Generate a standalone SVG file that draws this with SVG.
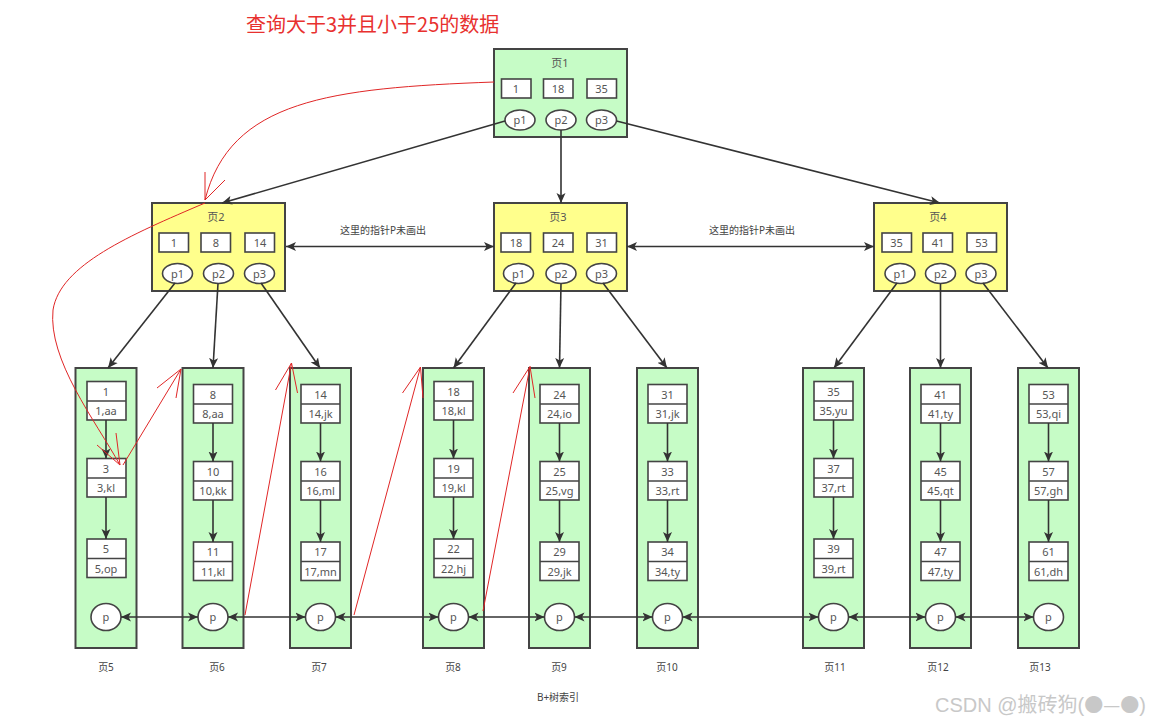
<svg xmlns="http://www.w3.org/2000/svg" width="1173" height="724" viewBox="0 0 1173 724">
<defs>
<marker id="ah" viewBox="0 0 10 10" refX="10" refY="5" markerWidth="10" markerHeight="10" markerUnits="userSpaceOnUse" orient="auto-start-reverse">
<path d="M0,0.5 L10,5 L0,9.5 L2.5,5 z" fill="#333"/>
</marker>
<style>
.inner{fill:#ffff8c;stroke:#444;stroke-width:2}
.leaf{fill:#c6fcc6;stroke:#444;stroke-width:2}
.root{fill:#c6fcc6;stroke:#444;stroke-width:2}
.box{fill:#fff;stroke:#444;stroke-width:1.6}
.ell{fill:#fff;stroke:#444;stroke-width:1.6}
.t{font-family:"Noto Sans","Noto Sans CJK SC",sans-serif;font-size:11px;fill:#555;text-anchor:middle}
.lbl{font-family:"Noto Sans","Noto Sans CJK SC",sans-serif;font-size:10px;fill:#444;text-anchor:middle}
.c{fill:none;stroke:#333;stroke-width:1.6}
.red{fill:none;stroke:#e02626;stroke-width:1}
</style>
</defs>
<rect width="1173" height="724" fill="#fff"/>
<text x="246" y="32" font-family="'Noto Sans CJK SC',sans-serif" font-size="20" fill="#e8312f">查询大于3并且小于25的数据</text>

<g id="page1">
<rect class="root" x="494" y="49" width="133" height="88"/>
<text class="t" x="560" y="67">页1</text>
<rect class="box" x="501.5" y="79" width="29.5" height="19"/><text class="t" x="516" y="92.5">1</text>
<rect class="box" x="543.5" y="79" width="29.5" height="19"/><text class="t" x="558" y="92.5">18</text>
<rect class="box" x="587" y="79" width="29.5" height="19"/><text class="t" x="601.5" y="92.5">35</text>
<ellipse class="ell" cx="520" cy="120" rx="15" ry="10"/><text class="t" x="520" y="124">p1</text>
<ellipse class="ell" cx="561" cy="120" rx="15" ry="10"/><text class="t" x="561" y="124">p2</text>
<ellipse class="ell" cx="601.5" cy="120" rx="15" ry="10"/><text class="t" x="601.5" y="124">p3</text>
</g>

<g id="page2">
<rect class="inner" x="152" y="203" width="133" height="88"/>
<text class="t" x="216" y="221">页2</text>
<rect class="box" x="159" y="233" width="29.5" height="19"/><text class="t" x="174" y="246.5">1</text>
<rect class="box" x="201" y="233" width="29.5" height="19"/><text class="t" x="216" y="246.5">8</text>
<rect class="box" x="245" y="233" width="29.5" height="19"/><text class="t" x="260" y="246.5">14</text>
<ellipse class="ell" cx="177.5" cy="273.5" rx="15" ry="10"/><text class="t" x="177.5" y="277.5">p1</text>
<ellipse class="ell" cx="218.5" cy="273.5" rx="15" ry="10"/><text class="t" x="218.5" y="277.5">p2</text>
<ellipse class="ell" cx="259.5" cy="273.5" rx="15" ry="10"/><text class="t" x="259.5" y="277.5">p3</text>
</g>

<g id="page3">
<rect class="inner" x="494" y="203" width="133" height="88"/>
<text class="t" x="558" y="221">页3</text>
<rect class="box" x="501" y="233" width="29.5" height="19"/><text class="t" x="516" y="246.5">18</text>
<rect class="box" x="543.5" y="233" width="29.5" height="19"/><text class="t" x="558" y="246.5">24</text>
<rect class="box" x="587" y="233" width="29.5" height="19"/><text class="t" x="601.5" y="246.5">31</text>
<ellipse class="ell" cx="518.5" cy="273.5" rx="15" ry="10"/><text class="t" x="518.5" y="277.5">p1</text>
<ellipse class="ell" cx="561" cy="273.5" rx="15" ry="10"/><text class="t" x="561" y="277.5">p2</text>
<ellipse class="ell" cx="601.5" cy="273.5" rx="15" ry="10"/><text class="t" x="601.5" y="277.5">p3</text>
</g>

<g id="page4">
<rect class="inner" x="874" y="203" width="133" height="88"/>
<text class="t" x="938" y="221">页4</text>
<rect class="box" x="882" y="233" width="29.5" height="19"/><text class="t" x="896.5" y="246.5">35</text>
<rect class="box" x="923" y="233" width="29.5" height="19"/><text class="t" x="938" y="246.5">41</text>
<rect class="box" x="967" y="233" width="29.5" height="19"/><text class="t" x="981.5" y="246.5">53</text>
<ellipse class="ell" cx="900" cy="273.5" rx="15" ry="10"/><text class="t" x="900" y="277.5">p1</text>
<ellipse class="ell" cx="940.5" cy="273.5" rx="15" ry="10"/><text class="t" x="940.5" y="277.5">p2</text>
<ellipse class="ell" cx="981" cy="273.5" rx="15" ry="10"/><text class="t" x="981" y="277.5">p3</text>
</g>

<g id="page5">
<rect class="leaf" x="75.5" y="368" width="61" height="280"/>
<rect class="box" x="87" y="381.5" width="39" height="38.5"/><line class="box" x1="87" y1="401" x2="126" y2="401"/>
<text class="t" x="106" y="395.5">1</text><text class="t" x="106" y="415">1,aa</text>
<rect class="box" x="87" y="458.5" width="39" height="38.5"/><line class="box" x1="87" y1="478" x2="126" y2="478"/>
<text class="t" x="106" y="472.5">3</text><text class="t" x="106" y="492">3,kl</text>
<rect class="box" x="87" y="539" width="39" height="38.5"/><line class="box" x1="87" y1="558.5" x2="126" y2="558.5"/>
<text class="t" x="106" y="553">5</text><text class="t" x="106" y="572.5">5,op</text>
<ellipse class="ell" cx="106" cy="617" rx="15" ry="13.5"/><text class="t" x="106" y="621">p</text>
<line class="c" x1="106" y1="420" x2="106" y2="458.5" marker-end="url(#ah)"/>
<line class="c" x1="106" y1="497" x2="106" y2="539" marker-end="url(#ah)"/>
</g>

<g id="page6">
<rect class="leaf" x="182.5" y="368" width="61" height="280"/>
<rect class="box" x="193.5" y="384.5" width="39" height="38.5"/><line class="box" x1="193.5" y1="404" x2="232.5" y2="404"/>
<text class="t" x="213" y="398.5">8</text><text class="t" x="213" y="418">8,aa</text>
<rect class="box" x="193.5" y="461.5" width="39" height="38.5"/><line class="box" x1="193.5" y1="481" x2="232.5" y2="481"/>
<text class="t" x="213" y="475.5">10</text><text class="t" x="213" y="495">10,kk</text>
<rect class="box" x="193.5" y="542" width="39" height="38.5"/><line class="box" x1="193.5" y1="561.5" x2="232.5" y2="561.5"/>
<text class="t" x="213" y="556">11</text><text class="t" x="213" y="575.5">11,kl</text>
<ellipse class="ell" cx="213" cy="617" rx="15" ry="13.5"/><text class="t" x="213" y="621">p</text>
<line class="c" x1="213" y1="423" x2="213" y2="461.5" marker-end="url(#ah)"/>
<line class="c" x1="213" y1="500" x2="213" y2="542" marker-end="url(#ah)"/>
</g>

<g id="page7">
<rect class="leaf" x="290" y="368" width="61" height="280"/>
<rect class="box" x="301" y="384.5" width="39" height="38.5"/><line class="box" x1="301" y1="404" x2="340" y2="404"/>
<text class="t" x="320.5" y="398.5">14</text><text class="t" x="320.5" y="418">14,jk</text>
<rect class="box" x="301" y="461.5" width="39" height="38.5"/><line class="box" x1="301" y1="481" x2="340" y2="481"/>
<text class="t" x="320.5" y="475.5">16</text><text class="t" x="320.5" y="495">16,ml</text>
<rect class="box" x="301" y="542" width="39" height="38.5"/><line class="box" x1="301" y1="561.5" x2="340" y2="561.5"/>
<text class="t" x="320.5" y="556">17</text><text class="t" x="320.5" y="575.5">17,mn</text>
<ellipse class="ell" cx="320.5" cy="617" rx="15" ry="13.5"/><text class="t" x="320.5" y="621">p</text>
<line class="c" x1="320.5" y1="423" x2="320.5" y2="461.5" marker-end="url(#ah)"/>
<line class="c" x1="320.5" y1="500" x2="320.5" y2="542" marker-end="url(#ah)"/>
</g>

<g id="page8">
<rect class="leaf" x="423" y="368" width="61" height="280"/>
<rect class="box" x="434" y="381.5" width="39" height="38.5"/><line class="box" x1="434" y1="401" x2="473" y2="401"/>
<text class="t" x="453.5" y="395.5">18</text><text class="t" x="453.5" y="415">18,kl</text>
<rect class="box" x="434" y="458.5" width="39" height="38.5"/><line class="box" x1="434" y1="478" x2="473" y2="478"/>
<text class="t" x="453.5" y="472.5">19</text><text class="t" x="453.5" y="492">19,kl</text>
<rect class="box" x="434" y="539" width="39" height="38.5"/><line class="box" x1="434" y1="558.5" x2="473" y2="558.5"/>
<text class="t" x="453.5" y="553">22</text><text class="t" x="453.5" y="572.5">22,hj</text>
<ellipse class="ell" cx="453.5" cy="617" rx="15" ry="13.5"/><text class="t" x="453.5" y="621">p</text>
<line class="c" x1="453.5" y1="420" x2="453.5" y2="458.5" marker-end="url(#ah)"/>
<line class="c" x1="453.5" y1="497" x2="453.5" y2="539" marker-end="url(#ah)"/>
</g>

<g id="page9">
<rect class="leaf" x="529" y="368" width="61" height="280"/>
<rect class="box" x="540" y="384.5" width="39" height="38.5"/><line class="box" x1="540" y1="404" x2="579" y2="404"/>
<text class="t" x="559.5" y="398.5">24</text><text class="t" x="559.5" y="418">24,io</text>
<rect class="box" x="540" y="461.5" width="39" height="38.5"/><line class="box" x1="540" y1="481" x2="579" y2="481"/>
<text class="t" x="559.5" y="475.5">25</text><text class="t" x="559.5" y="495">25,vg</text>
<rect class="box" x="540" y="542" width="39" height="38.5"/><line class="box" x1="540" y1="561.5" x2="579" y2="561.5"/>
<text class="t" x="559.5" y="556">29</text><text class="t" x="559.5" y="575.5">29,jk</text>
<ellipse class="ell" cx="559.5" cy="617" rx="15" ry="13.5"/><text class="t" x="559.5" y="621">p</text>
<line class="c" x1="559.5" y1="423" x2="559.5" y2="461.5" marker-end="url(#ah)"/>
<line class="c" x1="559.5" y1="500" x2="559.5" y2="542" marker-end="url(#ah)"/>
</g>

<g id="page10">
<rect class="leaf" x="637" y="368" width="61" height="280"/>
<rect class="box" x="648" y="384.5" width="39" height="38.5"/><line class="box" x1="648" y1="404" x2="687" y2="404"/>
<text class="t" x="667.5" y="398.5">31</text><text class="t" x="667.5" y="418">31,jk</text>
<rect class="box" x="648" y="461.5" width="39" height="38.5"/><line class="box" x1="648" y1="481" x2="687" y2="481"/>
<text class="t" x="667.5" y="475.5">33</text><text class="t" x="667.5" y="495">33,rt</text>
<rect class="box" x="648" y="542" width="39" height="38.5"/><line class="box" x1="648" y1="561.5" x2="687" y2="561.5"/>
<text class="t" x="667.5" y="556">34</text><text class="t" x="667.5" y="575.5">34,ty</text>
<ellipse class="ell" cx="667.5" cy="617" rx="15" ry="13.5"/><text class="t" x="667.5" y="621">p</text>
<line class="c" x1="667.5" y1="423" x2="667.5" y2="461.5" marker-end="url(#ah)"/>
<line class="c" x1="667.5" y1="500" x2="667.5" y2="542" marker-end="url(#ah)"/>
</g>

<g id="page11">
<rect class="leaf" x="803" y="368" width="61" height="280"/>
<rect class="box" x="814" y="381.5" width="39" height="38.5"/><line class="box" x1="814" y1="401" x2="853" y2="401"/>
<text class="t" x="833.5" y="395.5">35</text><text class="t" x="833.5" y="415">35,yu</text>
<rect class="box" x="814" y="458.5" width="39" height="38.5"/><line class="box" x1="814" y1="478" x2="853" y2="478"/>
<text class="t" x="833.5" y="472.5">37</text><text class="t" x="833.5" y="492">37,rt</text>
<rect class="box" x="814" y="539" width="39" height="38.5"/><line class="box" x1="814" y1="558.5" x2="853" y2="558.5"/>
<text class="t" x="833.5" y="553">39</text><text class="t" x="833.5" y="572.5">39,rt</text>
<ellipse class="ell" cx="833.5" cy="617" rx="15" ry="13.5"/><text class="t" x="833.5" y="621">p</text>
<line class="c" x1="833.5" y1="420" x2="833.5" y2="458.5" marker-end="url(#ah)"/>
<line class="c" x1="833.5" y1="497" x2="833.5" y2="539" marker-end="url(#ah)"/>
</g>

<g id="page12">
<rect class="leaf" x="910" y="368" width="61" height="280"/>
<rect class="box" x="921" y="384.5" width="39" height="38.5"/><line class="box" x1="921" y1="404" x2="960" y2="404"/>
<text class="t" x="940.5" y="398.5">41</text><text class="t" x="940.5" y="418">41,ty</text>
<rect class="box" x="921" y="461.5" width="39" height="38.5"/><line class="box" x1="921" y1="481" x2="960" y2="481"/>
<text class="t" x="940.5" y="475.5">45</text><text class="t" x="940.5" y="495">45,qt</text>
<rect class="box" x="921" y="542" width="39" height="38.5"/><line class="box" x1="921" y1="561.5" x2="960" y2="561.5"/>
<text class="t" x="940.5" y="556">47</text><text class="t" x="940.5" y="575.5">47,ty</text>
<ellipse class="ell" cx="940.5" cy="617" rx="15" ry="13.5"/><text class="t" x="940.5" y="621">p</text>
<line class="c" x1="940.5" y1="423" x2="940.5" y2="461.5" marker-end="url(#ah)"/>
<line class="c" x1="940.5" y1="500" x2="940.5" y2="542" marker-end="url(#ah)"/>
</g>

<g id="page13">
<rect class="leaf" x="1018" y="368" width="61" height="280"/>
<rect class="box" x="1029" y="384.5" width="39" height="38.5"/><line class="box" x1="1029" y1="404" x2="1068" y2="404"/>
<text class="t" x="1048.5" y="398.5">53</text><text class="t" x="1048.5" y="418">53,qi</text>
<rect class="box" x="1029" y="461.5" width="39" height="38.5"/><line class="box" x1="1029" y1="481" x2="1068" y2="481"/>
<text class="t" x="1048.5" y="475.5">57</text><text class="t" x="1048.5" y="495">57,gh</text>
<rect class="box" x="1029" y="542" width="39" height="38.5"/><line class="box" x1="1029" y1="561.5" x2="1068" y2="561.5"/>
<text class="t" x="1048.5" y="556">61</text><text class="t" x="1048.5" y="575.5">61,dh</text>
<ellipse class="ell" cx="1048.5" cy="617" rx="15" ry="13.5"/><text class="t" x="1048.5" y="621">p</text>
<line class="c" x1="1048.5" y1="423" x2="1048.5" y2="461.5" marker-end="url(#ah)"/>
<line class="c" x1="1048.5" y1="500" x2="1048.5" y2="542" marker-end="url(#ah)"/>
</g>

<g id="connectors">
<line class="c" x1="505" y1="121" x2="222" y2="203" marker-end="url(#ah)"/>
<line class="c" x1="561" y1="130" x2="561" y2="203" marker-end="url(#ah)"/>
<line class="c" x1="616.5" y1="121" x2="940" y2="203" marker-end="url(#ah)"/>
<line class="c" x1="286" y1="246.5" x2="494" y2="246.5" marker-start="url(#ah)" marker-end="url(#ah)"/>
<line class="c" x1="627" y1="246.5" x2="874" y2="246.5" marker-start="url(#ah)" marker-end="url(#ah)"/>
<line class="c" x1="175" y1="283" x2="108" y2="368" marker-end="url(#ah)"/>
<line class="c" x1="218" y1="283.5" x2="213" y2="368" marker-end="url(#ah)"/>
<line class="c" x1="261" y1="283" x2="320" y2="368" marker-end="url(#ah)"/>
<line class="c" x1="516" y1="283" x2="453.5" y2="368" marker-end="url(#ah)"/>
<line class="c" x1="561" y1="283.5" x2="559.5" y2="368" marker-end="url(#ah)"/>
<line class="c" x1="603" y1="283" x2="667" y2="368" marker-end="url(#ah)"/>
<line class="c" x1="897" y1="283" x2="834" y2="368" marker-end="url(#ah)"/>
<line class="c" x1="940.5" y1="283.5" x2="940.5" y2="368" marker-end="url(#ah)"/>
<line class="c" x1="983" y1="283" x2="1048" y2="368" marker-end="url(#ah)"/>
<line class="c" x1="121" y1="617" x2="198" y2="617" marker-start="url(#ah)" marker-end="url(#ah)"/>
<line class="c" x1="228" y1="617" x2="305.5" y2="617" marker-start="url(#ah)" marker-end="url(#ah)"/>
<line class="c" x1="335.5" y1="617" x2="438.5" y2="617" marker-start="url(#ah)" marker-end="url(#ah)"/>
<line class="c" x1="468.5" y1="617" x2="544.5" y2="617" marker-start="url(#ah)" marker-end="url(#ah)"/>
<line class="c" x1="574.5" y1="617" x2="652.5" y2="617" marker-start="url(#ah)" marker-end="url(#ah)"/>
<line class="c" x1="682.5" y1="617" x2="818.5" y2="617" marker-start="url(#ah)" marker-end="url(#ah)"/>
<line class="c" x1="848.5" y1="617" x2="925.5" y2="617" marker-start="url(#ah)" marker-end="url(#ah)"/>
<line class="c" x1="955.5" y1="617" x2="1033.5" y2="617" marker-start="url(#ah)" marker-end="url(#ah)"/>
</g>

<g id="labels">
<text class="lbl" x="383" y="234">这里的指针P未画出</text>
<text class="lbl" x="752" y="234">这里的指针P未画出</text>
<text class="lbl" x="106" y="671">页5</text>
<text class="lbl" x="217" y="671">页6</text>
<text class="lbl" x="319" y="671">页7</text>
<text class="lbl" x="453" y="671">页8</text>
<text class="lbl" x="559" y="671">页9</text>
<text class="lbl" x="667" y="671">页10</text>
<text class="lbl" x="835" y="671">页11</text>
<text class="lbl" x="938" y="671">页12</text>
<text class="lbl" x="1040" y="671">页13</text>
<text class="lbl" x="558" y="701">B+树索引</text>
</g>

<g id="annotations">
<path class="red" d="M494,82 C330,88 230,100 205,200"/>
<path class="red" d="M205,172 L205,200 L225,180"/>
<path class="red" d="M205,203 C130,235 60,265 53,310 C48,360 95,420 120,465"/>
<path class="red" d="M97,445 L120,465 L116,433"/>
<path class="red" d="M123,465 L181,369"/>
<path class="red" d="M157,388 L181,369 L176,398"/>
<path class="red" d="M245,615 L291.5,363"/>
<path class="red" d="M275.5,390 L291.5,363 L297.5,393"/>
<path class="red" d="M354,615 L420.5,367"/>
<path class="red" d="M402.5,393 L420.5,367 L423,398"/>
<path class="red" d="M483,611 L530,366.5"/>
<path class="red" d="M513,393 L530,366.5 L535,398"/>
</g>

<text x="935" y="712" font-family="'Liberation Sans','Noto Sans CJK SC',sans-serif" font-size="20" fill="#c8c8c8">CSDN @搬砖狗(<tspan font-family="'Noto Sans CJK SC',sans-serif" font-size="19">●—●</tspan>)</text>
</svg>
